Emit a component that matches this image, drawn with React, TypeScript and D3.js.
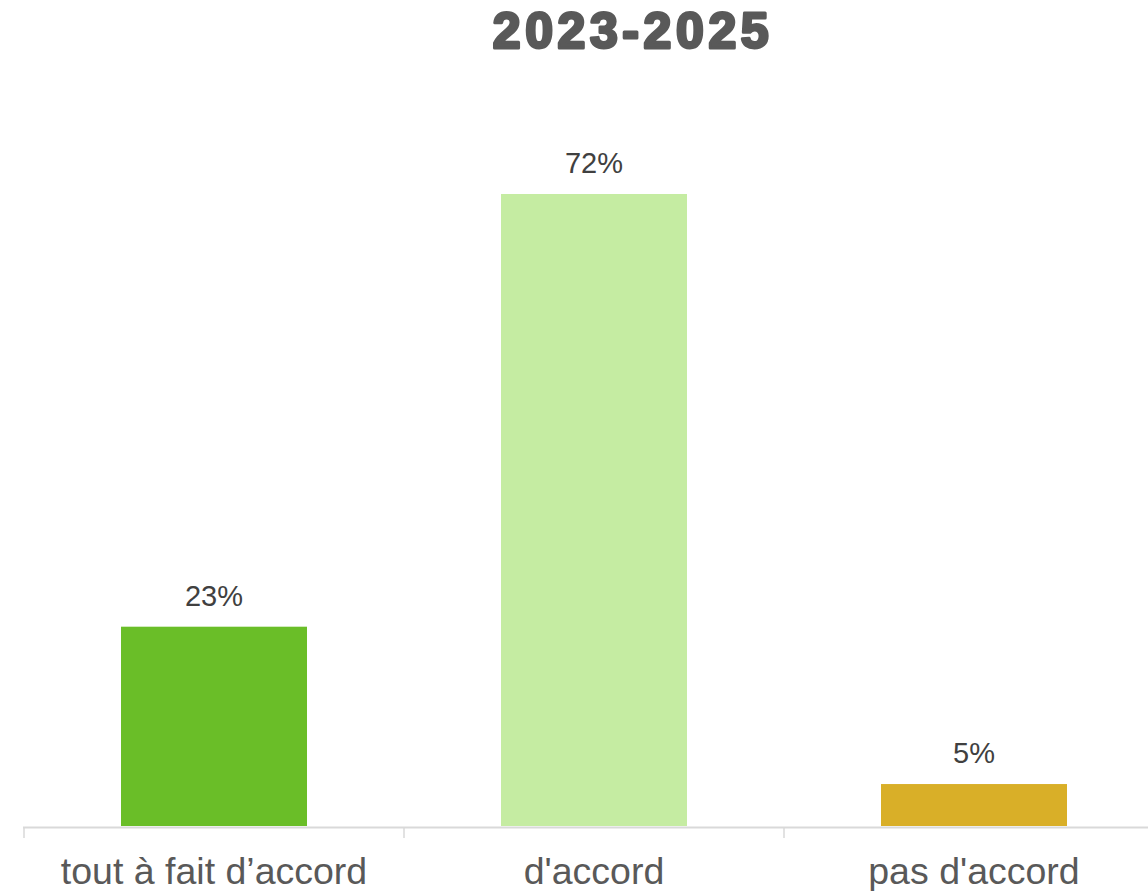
import React from "react";
import * as d3 from "d3";

const title = "2023-2025";
const categories = ["tout à fait d’accord", "d'accord", "pas d'accord"];
const values = [22.8, 72.3, 4.8];
const colors = ["#6abe28", "#c5eca2", "#d9af28"];

const W = 1148;
const H = 891;

export default function App() {
  const x = d3
    .scaleBand<string>()
    .domain(categories)
    .range([24, 1164])
    .paddingInner(0.5105)
    .paddingOuter(0.5105 / 2);
  const y = d3.scaleLinear().domain([0, 72.3]).range([826, 194]);
  const fmt = (v: number) => `${Math.round(v)}%`;
  const step = x.step();
  const boundaries = d3.range(categories.length + 1).map((i) => 24 + i * step);

  return (
    <svg
      width={W}
      height={H}
      style={{ position: "fixed", top: 0, left: 0, background: "#fff" }}
      fontFamily="'Liberation Sans', Arial, sans-serif"
    >
      <text
        x={633}
        y={48}
        textAnchor="middle"
        fontSize={50}
        fontWeight="bold"
        letterSpacing={4.6}
        fill="#595959"
        stroke="#595959"
        strokeWidth={3}
        strokeLinejoin="round"
      >
        {title}
      </text>
      {categories.map((c, i) => (
        <g key={c}>
          <rect
            x={x(c)}
            y={y(values[i])}
            width={x.bandwidth()}
            height={y(0) - y(values[i])}
            fill={colors[i]}
          />
          <text
            x={(x(c) as number) + x.bandwidth() / 2}
            y={y(values[i]) - 21}
            textAnchor="middle"
            fontSize={29}
            fill="#404040"
          >
            {fmt(values[i])}
          </text>
          <text
            x={(x(c) as number) + x.bandwidth() / 2}
            y={884}
            textAnchor="middle"
            fontSize={37.5}
            fill="#595959"
          >
            {c}
          </text>
        </g>
      ))}
      <line x1={23} x2={W} y1={827.5} y2={827.5} stroke="#d9d9d9" strokeWidth={2} />
      {boundaries.map((b, i) => (
        <line key={i} x1={b} x2={b} y1={827} y2={838} stroke="#d9d9d9" strokeWidth={1.5} />
      ))}
    </svg>
  );
}
